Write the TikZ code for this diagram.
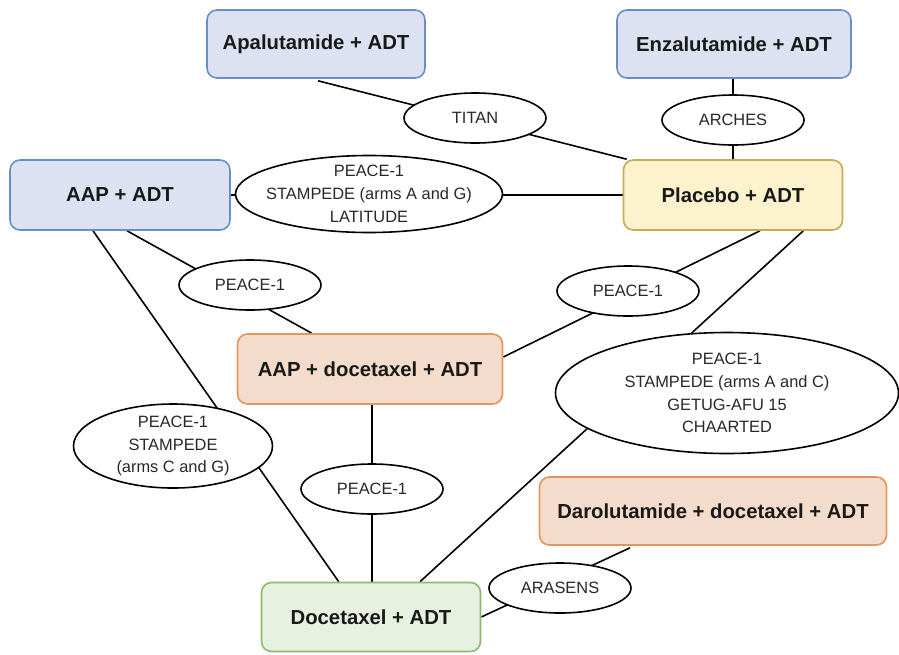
\documentclass[tikz,border=0pt]{standalone}
\usepackage{fontspec}
\setmainfont{Liberation Sans}
\usetikzlibrary{shapes.geometric,calc}
\definecolor{bluefill}{RGB}{220,226,242}
\definecolor{bluedraw}{RGB}{108,142,200}
\definecolor{yelfill}{RGB}{252,242,206}
\definecolor{yeldraw}{RGB}{200,170,80}
\definecolor{orfill}{RGB}{243,220,203}
\definecolor{ordraw}{RGB}{225,150,95}
\definecolor{grfill}{RGB}{230,241,224}
\definecolor{grdraw}{RGB}{140,187,110}
\definecolor{txtgray}{RGB}{40,40,40}
\pgfdeclarelayer{bg}
\pgfsetlayers{bg,main}
\tikzset{
  box/.style={draw, rounded corners=10pt, line width=1.6pt, inner sep=0pt,
    font=\fontsize{20.3}{24}\selectfont\bfseries, text=black!90},
  bluebox/.style={box, fill=bluefill, draw=bluedraw},
  yelbox/.style={box, fill=yelfill, draw=yeldraw},
  orbox/.style={box, fill=orfill, draw=ordraw},
  grbox/.style={box, fill=grfill, draw=grdraw},
  oval/.style={ellipse, draw, fill=white, line width=1.6pt, inner sep=0pt},
  small/.style={oval, minimum width=142pt, minimum height=50pt,
    font=\fontsize{16.4}{22.7}\selectfont, text=txtgray},
  lbl/.style={align=center, inner sep=0pt, font=\fontsize{16.4}{22.7}\selectfont, text=txtgray},
  conn/.style={line width=1.6pt, black}
}
\begin{document}
\begin{tikzpicture}[x=1pt,y=-1pt]
\useasboundingbox (0,0) rectangle (899,654);
% boxes
\node[bluebox, minimum width=218pt, minimum height=68pt] (apal) at (316,44) {Apalutamide + ADT};
\node[bluebox, minimum width=234pt, minimum height=68pt] (enz) at (734,44) {Enzalutamide + ADT};
\node[bluebox, minimum width=220pt, minimum height=70pt] (aap) at (120,195) {AAP + ADT};
\node[yelbox, minimum width=219pt, minimum height=70pt] (placebo) at (733,195) {Placebo + ADT};
\node[orbox, minimum width=265pt, minimum height=70pt] (aapdoc) at (370,369) {AAP + docetaxel + ADT};
\node[orbox, minimum width=347pt, minimum height=68pt] (daro) at (713,511) {Darolutamide + docetaxel + ADT};
\node[grbox, minimum width=219pt, minimum height=69pt] (doc) at (371,617) {Docetaxel + ADT};
% ellipses
\node[small] (titan) at (475,118) {TITAN};
\node[small] (arches) at (733,120) {ARCHES};
\node[oval, minimum width=267pt, minimum height=77pt,
  label={[lbl]center:PEACE-1\\STAMPEDE (arms A and G)\\LATITUDE}] (e3) at (369,194) {};
\node[small] (p1a) at (250,285) {PEACE-1};
\node[small] (p1b) at (628,291) {PEACE-1};
\node[oval, minimum width=343pt, minimum height=121pt,
  label={[lbl]center:PEACE-1\\STAMPEDE (arms A and C)\\GETUG-AFU 15\\CHAARTED}] (big) at (727,393) {};
\node[oval, minimum width=199pt, minimum height=84pt,
  label={[lbl]center:PEACE-1\\STAMPEDE\\(arms C and G)}] (e4) at (173,446) {};
\node[small] (p1c) at (372,489) {PEACE-1};
\node[small] (arasens) at (560,588) {ARASENS};
% connectors
\begin{pgfonlayer}{bg}
\draw[conn] ($(apal.south)+(2,2)$) -- ($(placebo.north west)+(4,0)$);
\draw[conn] (arches.north |- enz.south) -- (arches.south |- placebo.north);
\draw[conn] (aap.east) -- (placebo.west);
\draw[conn] ($(aap.south)+(7,0)$) -- ($(aapdoc.north west)+(75,0)$);
\draw[conn] ($(aap.south)+(-27,0)$) -- ($(doc.north west)+(78,0)$);
\draw[conn] ($(placebo.south)+(27,0)$) -- ($(aapdoc.east)+(0,-12)$);
\draw[conn] ($(placebo.south east)+(-40,0)$) -- ($(doc.north)+(49,0)$);
\draw[conn] (p1c.north |- aapdoc.south) -- (p1c.south |- doc.north);
\draw[conn] ($(daro.south)+(-83,2)$) -- (doc.east);
\end{pgfonlayer}
\end{tikzpicture}
\end{document}
